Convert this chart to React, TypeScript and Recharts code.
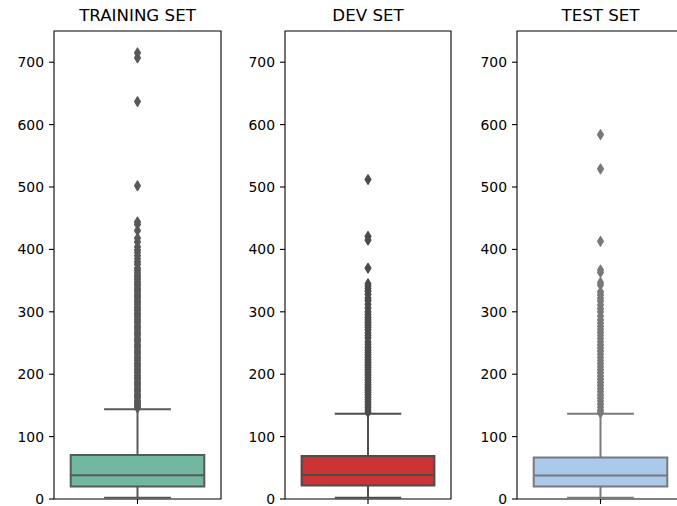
import React from "react";
import {
  ComposedChart,
  XAxis,
  YAxis,
  Scatter,
  ReferenceArea,
  ReferenceLine,
} from "recharts";

// ---- data ----
const panelTitles = ["TRAINING SET", "DEV SET", "TEST SET"];
const yTicks = [0, 100, 200, 300, 400, 500, 600, 700];

// [lowWhisker, q1, median, q3, highWhisker]
const trainStats = [2, 20, 38, 70.5, 144];
const devStats = [2, 21.5, 38.5, 69, 136.5];
const testStats = [2, 20, 37.5, 66.5, 136.5];

const trainOutliers = [
  715, 707, 637, 502, 444, 440, 430, 418, 412, 404, 399, 395, 390, 385, 380,
  376, 370, 366, 362, 358, 355, 352, 348, 345, 342, 338, 335, 332, 328, 325,
  322, 318, 315, 312, 308, 305, 302, 298, 295, 292, 288, 285, 282, 278, 275,
  272, 268, 265, 262, 258, 255, 252, 248, 245, 242, 238, 235, 232, 228, 225,
  222, 218, 215, 212, 208, 205, 202, 198, 195, 192, 188, 185, 182, 178, 175,
  172, 168, 165, 162, 158, 155, 152, 149, 146,
];
const devOutliers = [
  512, 421, 415, 370, 345, 341, 337, 333, 328, 322, 318, 312, 306, 300, 295,
  291, 287, 283, 279, 275, 271, 266, 262, 258, 252, 248, 243, 239, 235, 231,
  227, 223, 219, 215, 211, 207, 203, 199, 195, 191, 187, 183, 179, 175, 171,
  167, 163, 159, 155, 151, 147, 143, 139,
];
const testOutliers = [
  584, 529, 413, 367, 363, 347, 343, 332, 327, 322, 317, 311, 305, 300, 293,
  287, 282, 277, 272, 267, 262, 257, 252, 247, 242, 237, 232, 227, 222, 217,
  212, 207, 202, 197, 192, 187, 182, 177, 172, 167, 162, 157, 152, 147, 142,
  138,
];

const boxColors = ["#71b7a1", "#cb3335", "#abc9ea"];
const lineColors = ["#595959", "#4c4c4c", "#797979"];

const statsList = [trainStats, devStats, testStats];
const outlierList = [trainOutliers, devOutliers, testOutliers];

const FONT = "'DejaVu Sans', sans-serif";
const CHART_H = 506;
const TOP = 31;
const Y_AXIS_W = 54;
const panelLefts = [0, 231, 463];
const plotWidths = [167, 166, 167];

const Diamond = (props: any) => {
  const { cx, cy, fill } = props;
  if (cx == null || cy == null) return null;
  const hw = 2.9;
  const hh = 4.8;
  return (
    <polygon
      points={`${cx},${cy - hh} ${cx + hw},${cy} ${cx},${cy + hh} ${cx - hw},${cy}`}
      fill={fill}
      stroke={fill}
      strokeWidth={1.3}
      strokeLinejoin="round"
    />
  );
};

function Panel({ idx }: { idx: number }) {
  const [lo, q1, med, q3, hi] = statsList[idx];
  const gray = lineColors[idx];
  const pts = outlierList[idx].map((v) => ({ x: 0, y: v }));
  const w = Y_AXIS_W + plotWidths[idx] + 2;
  return (
    <div style={{ position: "absolute", left: panelLefts[idx], top: 0, width: w, height: CHART_H }}>
      <div
        style={{
          position: "absolute",
          left: Y_AXIS_W,
          width: plotWidths[idx],
          top: 5.7,
          lineHeight: "20px",
          fontSize: 16.67,
          fontFamily: FONT,
          textAlign: "center",
          color: "#000",
          whiteSpace: "nowrap",
        }}
      >
        {panelTitles[idx]}
      </div>
      <ComposedChart
        width={w}
        height={CHART_H}
        margin={{ top: TOP, right: 2, bottom: 0, left: 0 }}
      >
        <XAxis
          type="number"
          dataKey="x"
          domain={[-0.5, 0.5]}
          ticks={[0]}
          tickFormatter={() => ""}
          tickSize={5}
          height={7}
          axisLine={false}
          tickLine={{ stroke: "#000", strokeWidth: 1.1 }}
          allowDataOverflow
        />
        <YAxis
          type="number"
          dataKey="y"
          domain={[0, 750]}
          ticks={yTicks}
          width={Y_AXIS_W}
          tickSize={5}
          tickMargin={5}
          axisLine={false}
          tickLine={{ stroke: "#000", strokeWidth: 1.1 }}
          tick={{ fill: "#000", fontSize: 13.9, fontFamily: FONT }}
          interval={0}
          allowDataOverflow
        />
        {/* whiskers */}
        <ReferenceLine
          segment={[{ x: 0, y: q3 }, { x: 0, y: hi }]}
          stroke={gray}
          strokeWidth={2}
        />
        <ReferenceLine
          segment={[{ x: 0, y: lo }, { x: 0, y: q1 }]}
          stroke={gray}
          strokeWidth={2}
        />
        <ReferenceLine
          segment={[{ x: -0.2, y: hi }, { x: 0.2, y: hi }]}
          stroke={gray}
          strokeWidth={2}
        />
        <ReferenceLine
          segment={[{ x: -0.2, y: lo }, { x: 0.2, y: lo }]}
          stroke={gray}
          strokeWidth={2}
        />
        {/* box */}
        <ReferenceArea
          x1={-0.4}
          x2={0.4}
          y1={q1}
          y2={q3}
          fill={boxColors[idx]}
          fillOpacity={1}
          stroke={gray}
          strokeWidth={2}
        />
        <ReferenceLine
          segment={[{ x: -0.4, y: med }, { x: 0.4, y: med }]}
          stroke={gray}
          strokeWidth={2}
        />
        <Scatter
          data={pts}
          fill={gray}
          isAnimationActive={false}
          shape={<Diamond />}
        />
        {/* frame */}
        <ReferenceArea
          x1={-0.5}
          x2={0.5}
          y1={0}
          y2={750}
          fill="none"
          fillOpacity={0}
          stroke="#000"
          strokeWidth={1.1}
        />
      </ComposedChart>
    </div>
  );
}

export default function App() {
  return (
    <div
      style={{
        position: "absolute",
        left: 0,
        top: 0,
        width: 677,
        height: 506,
        overflow: "hidden",
        background: "#fff",
      }}
    >
      {[0, 1, 2].map((i) => (
        <Panel key={i} idx={i} />
      ))}
    </div>
  );
}
